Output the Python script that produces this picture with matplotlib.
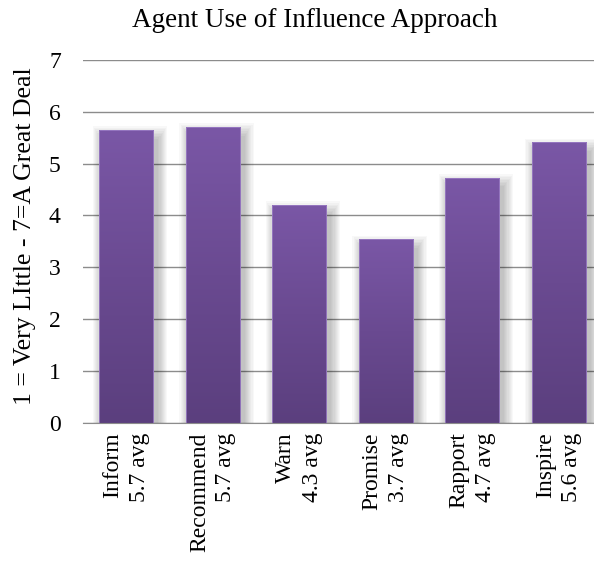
import numpy as np
import matplotlib.pyplot as plt
from matplotlib.colors import LinearSegmentedColormap

categories = ['Inform', 'Recommend', 'Warn', 'Promise', 'Rapport', 'Inspire']
averages = ['5.7 avg', '5.7 avg', '4.3 avg', '3.7 avg', '4.7 avg', '5.6 avg']
values = [5.65, 5.71, 4.20, 3.54, 4.73, 5.41]

plt.rcParams['font.family'] = ['Liberation Serif', 'DejaVu Serif']

W, H = 594, 563
fig = plt.figure(figsize=(W / 100, H / 100), dpi=100)
ax = fig.add_axes([83 / W, 1 - 422.6 / H, (W - 83) / W, (422.6 - 60) / H])

x = np.arange(len(categories))
bw = 0.625

# soft shadow behind bars
for k in range(9):
    grow = 0.013 * (k + 1)
    ax.bar(x + 0.045, np.array(values) + 0.03 * (k + 1), width=bw + 2 * grow,
           bottom=-0.2, color='black', alpha=0.028, linewidth=0, zorder=1)

bars = ax.bar(x, values, width=bw, color='none', edgecolor='#9a7cc4',
              linewidth=0.6, zorder=3)

cmap = LinearSegmentedColormap.from_list('purp', ['#5b3f7e', '#6a4a91', '#7a57a6'])
grad = np.linspace(0, 1, 256).reshape(-1, 1)
for b in bars:
    x0, w, h = b.get_x(), b.get_width(), b.get_height()
    img = ax.imshow(grad, cmap=cmap, origin='lower', aspect='auto',
                    extent=[x0, x0 + w, 0, h], zorder=2)
    img.set_clip_path(b)

ax.set_xlim(-0.5, 5.41)
ax.set_ylim(0, 7)
ax.set_yticks(range(8))
ax.yaxis.grid(True, color='#8c8c8c', linewidth=1.0, zorder=0)
ax.set_axisbelow(True)
for s in ['top', 'right', 'left']:
    ax.spines[s].set_visible(False)
ax.spines['bottom'].set_color('#8c8c8c')
ax.spines['bottom'].set_zorder(4)

labels = [f'{c}\n{a}' for c, a in zip(categories, averages)]
ax.set_xticks(x)
ax.set_xticklabels(labels, rotation=90, ha='center', va='top',
                   multialignment='right', fontsize=17, linespacing=1.35)
ax.tick_params(axis='x', length=0, pad=7)
ax.tick_params(axis='y', length=0, pad=16, labelsize=17)

ax.set_ylabel('1 = Very LIttle - 7=A Great Deal', fontsize=18.5)
ax.yaxis.set_label_coords(-0.092, 0.515)

fig.text(0.53, 0.963, 'Agent Use of Influence Approach', ha='center', va='center',
         fontsize=19.5)

fig.savefig('out.png', dpi=100)
